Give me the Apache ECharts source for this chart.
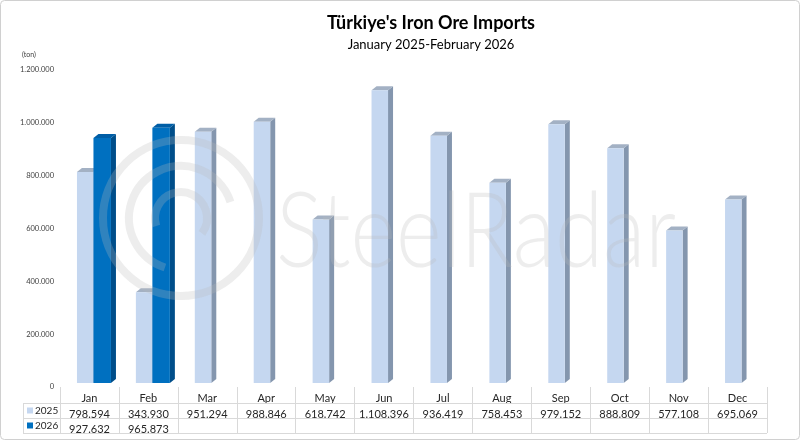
<!DOCTYPE html>
<html>
<head>
<meta charset="utf-8">
<script src="https://cdn.jsdelivr.net/npm/echarts@6/dist/echarts.min.js"></script>
<style>
html,body{margin:0;padding:0;background:#fff;}
#chart{width:800px;height:441px;}
</style>
</head>
<body>
<div id="chart"></div>
<script>
const categories = ['Jan','Feb','Mar','Apr','May','Jun','Jul','Aug','Sep','Oct','Nov','Dec'];
const values2025 = [798594, 343930, 951294, 988846, 618742, 1108396, 936419, 758453, 979152, 888809, 577108, 695069];
const values2026 = [927632, 965873, null, null, null, null, null, null, null, null, null, null];
const seriesNames = ['2025', '2026'];
const yMin = 0, yMax = 1200000, yInterval = 200000;

const FONT = 'Lato, "Noto Sans", sans-serif';
function fmt(n){ return n == null ? '' : String(n).replace(/\B(?=(\d{3})+(?!\d))/g, '.'); }

const DX = 5, DY = -4;
function make3D(offL, offR, front, side, topc){
  return function(params, api){
    const idx = api.value(0), v = api.value(1);
    if (isNaN(v)) return;
    const t = api.coord([idx, v]);
    const b = api.coord([idx, 0]);
    const sh = -4; // front face sits slightly above the label baseline
    const x0 = t[0] + offL, x1 = t[0] + offR, y0 = t[1] + sh, yb = b[1] + sh;
    return {
      type: 'group',
      children: [
        {type:'polygon', shape:{points:[[x1,y0],[x1+DX,y0+DY],[x1+DX,yb+DY],[x1,yb]]}, style:{fill:side}},
        {type:'polygon', shape:{points:[[x0,y0],[x0+DX,y0+DY],[x1+DX,y0+DY],[x1,y0]]}, style:{fill:topc}},
        {type:'rect', shape:{x:x0, y:y0, width:x1-x0, height:yb-y0}, style:{fill:front}}
      ]
    };
  };
}
const colors = {
  '2025': {front:'#C5D7F0', side:'#8496AE', top:'#A3B1C4'},
  '2026': {front:'#0070C0', side:'#004E8A', top:'#005EA6'}
};

const chart = echarts.init(document.getElementById('chart'), null, {renderer:'canvas'});
const gridL = 60, gridR = 33, gridTop = 70, gridBottom = 54;
const axisBaseY = 441 - gridBottom;
const rowH = 15;

const option = {
  animation: false,
  backgroundColor: '#fff',
  title: [
    {text: "Türkiye's Iron Ore Imports", left: 426, top: 9, textAlign: 'center',
     textStyle:{fontFamily:FONT, fontWeight:'bold', fontSize:18, color:'#000'}},
    {text: 'January 2025-February 2026', left: 426, top: 33, textAlign: 'center',
     textStyle:{fontFamily:FONT, fontWeight:'normal', fontSize:13, color:'#000'}}
  ],
  grid: {left: gridL, right: gridR, top: gridTop, bottom: gridBottom, containLabel:false},
  xAxis: [
    {type:'category', data: categories, position:'bottom',
     axisLine:{show:false},
     axisTick:{show:true, length:46, lineStyle:{color:'#D9D9D9'}, interval:0},
     axisLabel:{margin:6, fontFamily:FONT, fontSize:11, color:'#262626', interval:0}},
    {type:'category', data: values2025.map(fmt), position:'bottom', offset: rowH,
     axisLine:{show:false}, axisTick:{show:false},
     axisLabel:{margin:7, fontFamily:FONT, fontSize:11, color:'#262626', interval:0}},
    {type:'category', data: values2026.map(fmt), position:'bottom', offset: rowH*2,
     axisLine:{show:false}, axisTick:{show:false},
     axisLabel:{margin:7, fontFamily:FONT, fontSize:11, color:'#262626', interval:0}}
  ],
  yAxis: {type:'value', min:yMin, max:yMax, interval:yInterval,
    axisLine:{show:false}, axisTick:{show:false}, splitLine:{show:false},
    axisLabel:{margin:6, fontFamily:FONT, fontSize:7.5, color:'#404040', formatter: v => fmt(v)}},
  series: [
    {type:'custom', name: seriesNames[0], xAxisIndex:0, yAxisIndex:0,
     renderItem: make3D(-12.5, 4, colors['2025'].front, colors['2025'].side, colors['2025'].top),
     encode:{x:0, y:1},
     data: values2025.map((v,i)=>[i, v]).filter(d=>d[1]!=null), z:2},
    {type:'custom', name: seriesNames[1], xAxisIndex:0, yAxisIndex:0,
     renderItem: make3D(4, 21.5, colors['2026'].front, colors['2026'].side, colors['2026'].top),
     encode:{x:0, y:1},
     data: values2026.map((v,i)=>[i, v]).filter(d=>d[1]!=null), z:3}
  ],
  graphic: []
};
chart.setOption(option);

// table lines, legend cells, watermark, border
const tblLeft = 23, tblRight = 800 - gridR;
const rowTops = [axisBaseY + 16, axisBaseY + 31, axisBaseY + 46];
const g = [];
rowTops.forEach(y => g.push({type:'line', shape:{x1:tblLeft, y1:y+0.5, x2:tblRight, y2:y+0.5}, style:{stroke:'#D9D9D9', lineWidth:1}, z:5}));
g.push({type:'line', shape:{x1:tblLeft+0.5, y1:rowTops[0], x2:tblLeft+0.5, y2:rowTops[2]}, style:{stroke:'#D9D9D9', lineWidth:1}, z:5});
seriesNames.forEach((name, k) => {
  const cy = rowTops[k] + 7.5;
  g.push({type:'rect', shape:{x:27, y:cy-3, width:6, height:6}, style:{fill:colors[name].front}, z:5});
  g.push({type:'text', x:35, y:cy, style:{text:name, font:'10px ' + FONT, fill:'#262626', textVerticalAlign:'middle'}, z:5});
});
g.push({type:'text', x:22, y:55, style:{text:'(ton)', font:'7px ' + FONT, fill:'#404040', textVerticalAlign:'middle'}, z:5});
// watermark
const wm = 'rgba(185,185,185,0.26)';
g.push({type:'text', x:276, y:233, scaleX:0.84, style:{text:'SteelRadar', font:'300 104px ' + FONT, fill:wm, textVerticalAlign:'middle'}, z:10});
g.push({type:'circle', shape:{cx:181, cy:218, r:78}, style:{fill:'none', stroke:wm, lineWidth:8}, z:10});
g.push({type:'arc', shape:{cx:181, cy:218, r:52, startAngle:Math.PI*0.6, endAngle:Math.PI*1.9}, style:{fill:'none', stroke:wm, lineWidth:8}, z:10});
g.push({type:'arc', shape:{cx:181, cy:218, r:26, startAngle:Math.PI*0.9, endAngle:Math.PI*2.2}, style:{fill:'none', stroke:wm, lineWidth:8}, z:10});
// border
g.push({type:'rect', shape:{x:0.5, y:0.5, width:799, height:439, r:4}, style:{fill:'none', stroke:'#D0D0D0', lineWidth:1}, z:5});
chart.setOption({graphic: g});
</script>
</body>
</html>
